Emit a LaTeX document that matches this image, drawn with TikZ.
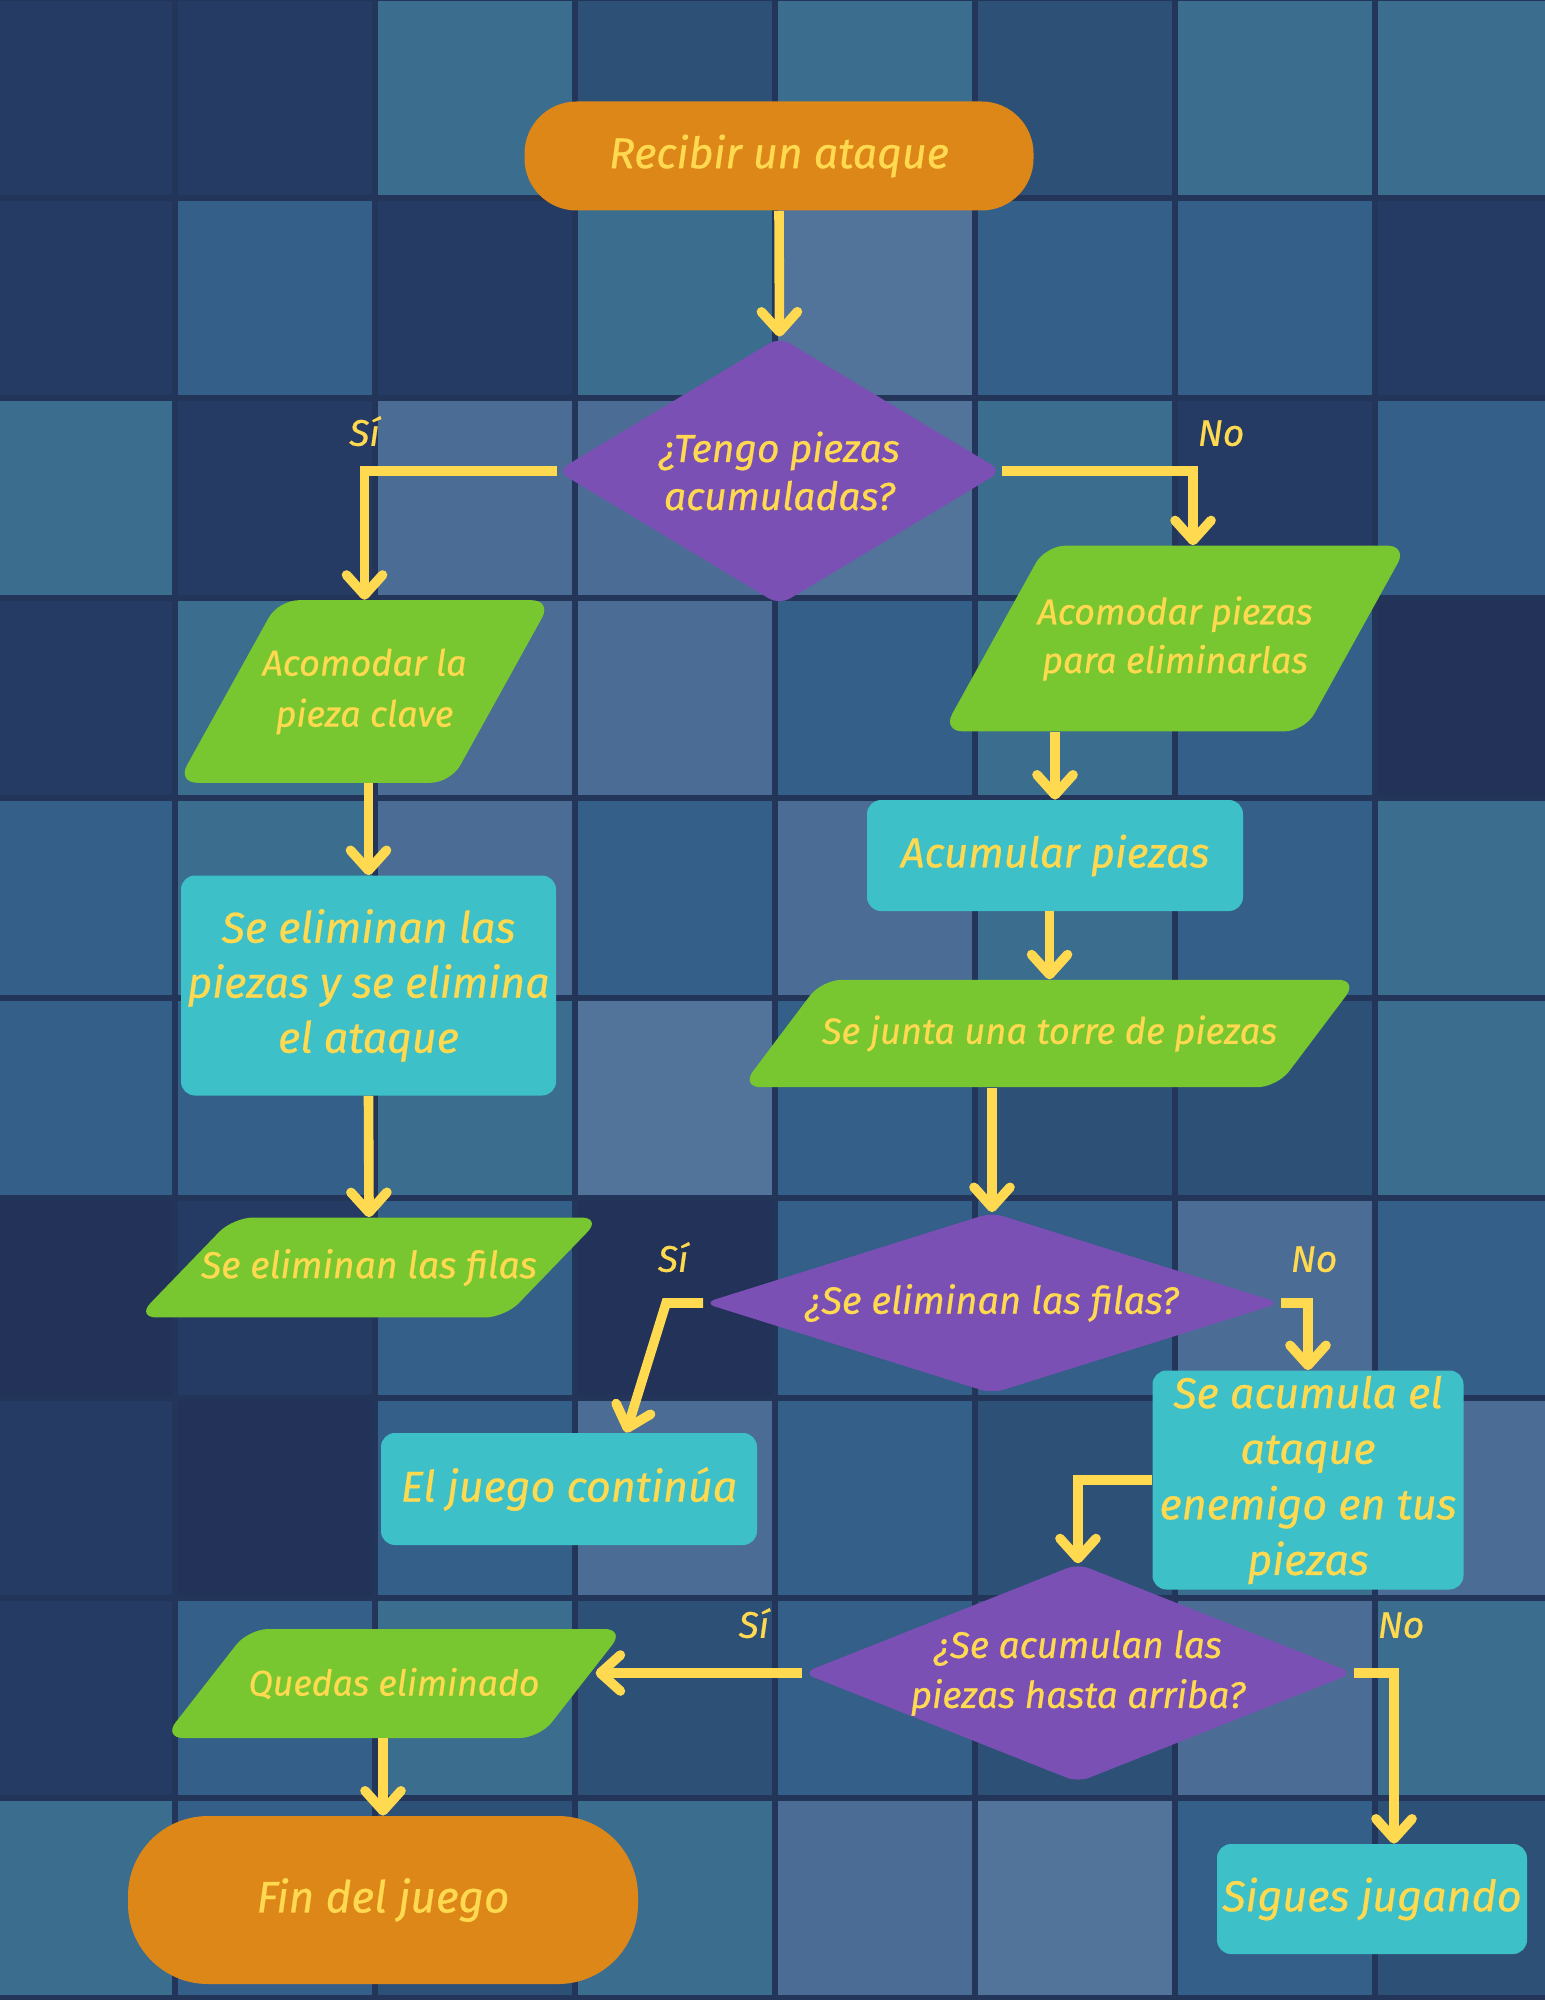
\documentclass[tikz,border=0pt]{standalone}
\usepackage{fontspec}
\setmainfont{Fira Sans}[ItalicFeatures={FakeBold=0.6}]
\usetikzlibrary{shapes.geometric,arrows.meta}
\definecolor{tileA}{HTML}{253B63}
\definecolor{tileB}{HTML}{2D5076}
\definecolor{tileC}{HTML}{335F88}
\definecolor{tileD}{HTML}{3A6D8E}
\definecolor{tileE}{HTML}{4B6C95}
\definecolor{tileF}{HTML}{52739A}
\definecolor{tileG}{HTML}{223258}
\definecolor{gridline}{HTML}{233559}
\definecolor{flowgreen}{HTML}{78C730}
\definecolor{flowcyan}{HTML}{3EC0C8}
\definecolor{floworange}{HTML}{DD8719}
\definecolor{flowpurple}{HTML}{7A50B5}
\definecolor{flowyellow}{HTML}{FFD94F}
\newcommand{\flowfont}[2]{\itshape\fontsize{#1}{#2}\selectfont}

\begin{document}
\begin{tikzpicture}[x=0.5pt, y=-0.5pt,
    >={Straight Barb[length=10pt,width=18pt,round]},
    terminal/.style={rectangle, fill=floworange, text=flowyellow, inner sep=0pt, align=center},
    process/.style={rectangle, fill=flowcyan, text=flowyellow, rounded corners=7pt, inner sep=0pt, align=center},
    decision/.style={diamond, fill=flowpurple, text=flowyellow, rounded corners=6pt, inner sep=0pt, align=center},
    dataio/.style={trapezium, trapezium stretches body=true, fill=flowgreen, text=flowyellow,
        rounded corners=10pt, inner xsep=0pt, align=center},
    flow/.style={draw=flowyellow, line width=4.8pt, ->},
    answer/.style={text=flowyellow, inner sep=0pt, font=\flowfont{18.5}{22}}]
    \useasboundingbox (0,0) rectangle (1545,2000);
    % background tiles
    \fill[gridline] (0,0) rectangle (1545,2000);
    \begin{scope}
    \clip (0,0) rectangle (1545,2000);
    \foreach \row [count=\r from 0] in {
        {tileA,tileA,tileD,tileB,tileD,tileB,tileD,tileD},
        {tileA,tileC,tileA,tileD,tileF,tileC,tileC,tileA},
        {tileD,tileA,tileE,tileE,tileF,tileD,tileA,tileC},
        {tileA,tileD,tileE,tileE,tileC,tileD,tileC,tileG},
        {tileC,tileD,tileE,tileC,tileE,tileD,tileC,tileD},
        {tileC,tileC,tileD,tileF,tileC,tileB,tileB,tileD},
        {tileG,tileA,tileC,tileG,tileC,tileC,tileE,tileC},
        {tileA,tileG,tileC,tileE,tileC,tileB,tileD,tileE},
        {tileA,tileC,tileD,tileB,tileC,tileB,tileE,tileD},
        {tileD,tileC,tileB,tileD,tileE,tileF,tileC,tileB}} {
        \foreach \c [count=\k from 0] in \row {
            \fill[\c] (-25+200*\k+3, -2+200*\r+3) rectangle ++(194,194);
        }
    }
    \end{scope}

    % nodes
    \node[terminal, rounded corners=26pt, minimum width=254.5pt, minimum height=54.5pt,
        font=\flowfont{21.5}{26}] (start) at (779,156) {Recibir un ataque};
    \node[decision, aspect=1.66, minimum width=222.5pt, minimum height=134pt,
        font=\flowfont{19.5}{24}] (tengo) at (779.5,471) {¿Tengo piezas\\acumuladas?};
    \node[dataio, trapezium left angle=61, trapezium right angle=119,
        inner ysep=24.2pt, inner xsep=-8pt,
        font=\flowfont{18}{25.5}] (clave) at (364.5,691.5) {Acomodar la\\pieza clave};
    \node[dataio, trapezium left angle=61, trapezium right angle=119,
        inner ysep=25.3pt, inner xsep=-4pt,
        font=\flowfont{18}{24.3}] (acomodar) at (1175,638.5) {Acomodar piezas\\para eliminarlas};
    \node[process, minimum width=188pt, minimum height=55.5pt,
        font=\flowfont{21}{25}] (acumular) at (1055,855.5) {Acumular piezas};
    \node[process, minimum width=187.5pt, minimum height=110pt,
        font=\flowfont{21.5}{27.5}] (elimina) at (368.5,985.5) {Se eliminan las\\piezas y se elimina\\el ataque};
    \node[dataio, trapezium left angle=53, trapezium right angle=127,
        minimum width=305.5pt, inner ysep=17.8pt,
        font=\flowfont{18.2}{21}] (torre) at (1049.5,1033.5) {Se junta una torre de piezas};
    \node[dataio, trapezium left angle=46, trapezium right angle=134,
        inner ysep=15.7pt, inner xsep=-16pt,
        font=\flowfont{18.7}{23}] (filas) at (369,1267.5) {Se eliminan las filas};
    \node[decision, aspect=3.19, minimum width=288.5pt, minimum height=90.5pt,
        font=\flowfont{19}{22}] (eliminan) at (992,1303) {¿Se eliminan las filas?};
    \node[process, minimum width=188pt, minimum height=56pt,
        font=\flowfont{21.5}{26}] (continua) at (569,1489) {El juego continúa};
    \node[process, minimum width=155.5pt, minimum height=109.5pt,
        font=\flowfont{21.5}{27.8}] (acumula) at (1308,1480) {Se acumula el\\ataque\\enemigo en tus\\piezas};
    \node[decision, aspect=2.52, minimum width=272pt, minimum height=108pt,
        font=\flowfont{18.5}{25}] (arriba) at (1078,1673) {¿Se acumulan las\\piezas hasta arriba?};
    \node[dataio, trapezium left angle=52, trapezium right angle=128,
        minimum width=222pt, inner ysep=19.4pt,
        font=\flowfont{17.8}{21}] (quedas) at (394,1683.5) {Quedas eliminado};
    \node[terminal, rounded corners=40pt, minimum width=255pt, minimum height=84pt,
        font=\flowfont{22}{26}] (fin) at (383,1900) {Fin del juego};
    \node[process, minimum width=155pt, minimum height=55pt,
        font=\flowfont{21.5}{26}] (sigues) at (1372,1899) {Sigues jugando};

    % connectors
    \draw[flow] (start.south) -- (tengo.north);
    \draw[flow] (tengo.west) -| node[answer, pos=0.5, above=10pt] {Sí} (clave.north);
    \draw[flow] (tengo.east) -| node[answer, pos=0.5, above=10pt, xshift=14pt] {No} ([xshift=9pt]acomodar.north);
    \draw[flow] (elimina.north |- clave.south) -- (elimina.north);
    \draw[flow] (elimina.south) -- (filas.north);
    \draw[flow] (acumular.north |- acomodar.south) -- (acumular.north);
    \draw[flow] (torre.north |- acumular.south) -- (torre.north);
    \draw[flow] (eliminan.north |- torre.south) -- (eliminan.north);
    \draw[flow] (eliminan.west) -- ++(-37,0) node[answer, above=13pt, xshift=3.5pt] {Sí}
        -- ([xshift=28.5pt]continua.north);
    \draw[flow] (eliminan.east) -| node[answer, pos=0.5, above=13pt, xshift=3pt] {No} (acumula.north);
    \draw[flow] (acumula.west) -| (arriba.north);
    \draw[flow, shorten >=6.5pt] (arriba.west) -- node[answer, pos=0.22, above=15pt] {Sí} (quedas.east |- arriba.west);
    \draw[flow] (arriba.east) -| node[answer, pos=0.5, above=15pt, xshift=3.5pt] {No} ([xshift=11pt]sigues.north);
    \draw[flow] (fin.north |- quedas.south) -- (fin.north);
\end{tikzpicture}
\end{document}
